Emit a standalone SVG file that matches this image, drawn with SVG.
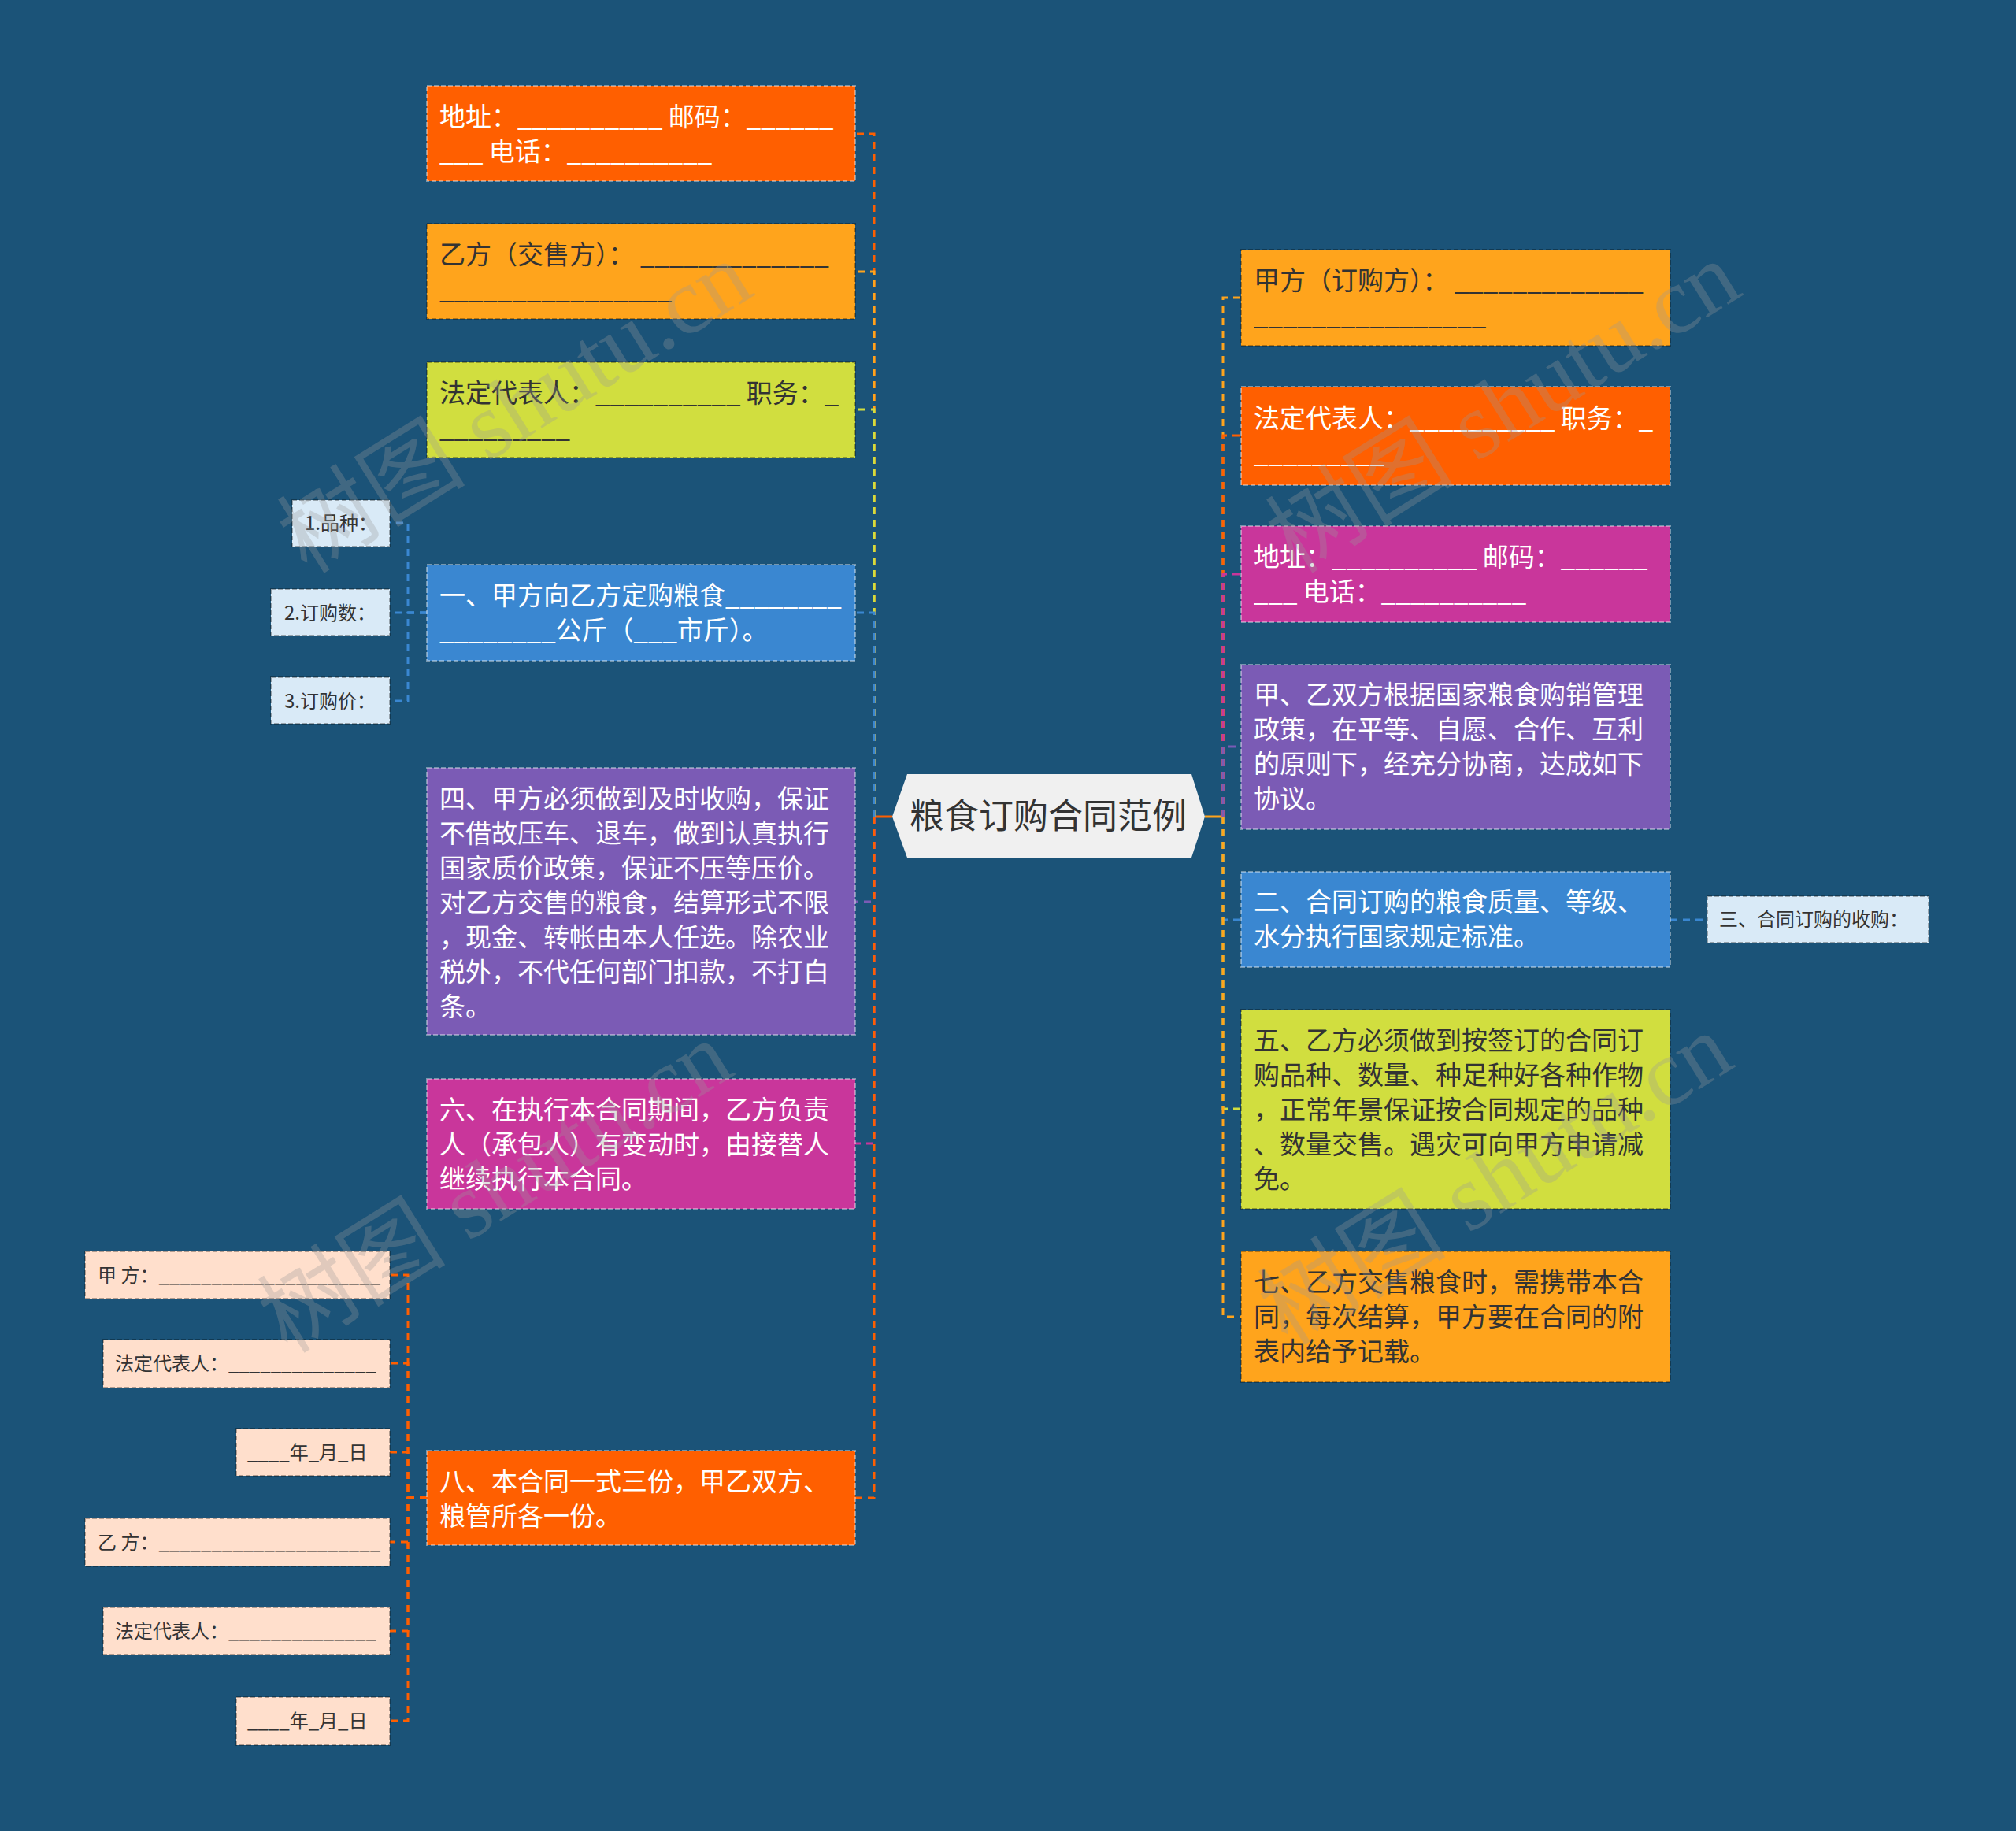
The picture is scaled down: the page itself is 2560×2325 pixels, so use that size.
<svg xmlns="http://www.w3.org/2000/svg" width="2560" height="2325" viewBox="0 0 2560 2325">
<style>
text{font-family:"Noto Sans CJK SC","Noto Sans",sans-serif;}
.b{font-size:33px;}
.s{font-size:24px;fill:#333;}
.w{fill:#fff;}
.d{fill:#333;}
.bw{stroke:rgba(255,255,255,0.4);stroke-width:2;stroke-dasharray:6 3;}
.bd{stroke:rgba(0,0,0,0.3);stroke-width:2;stroke-dasharray:6 3;}
.c{fill:none;stroke-width:3;stroke-dasharray:9 7;}
.wm{font-family:"Liberation Serif","Noto Sans CJK SC",serif;font-size:120px;fill:#9a9a9a;opacity:0.3;}
</style>
<rect width="2560" height="2325" fill="#1B5378"/>
<g id="connectors">
<path d="M1133 1037H1110" fill="none" stroke="#FF5F00" stroke-width="3"/>
<path class="c" stroke="#FF5F00" d="M1110 1037V170H1086"/>
<path class="c" stroke="#FFA41C" d="M1110 1037V345H1086"/>
<path class="c" stroke="#D1DE3F" d="M1110 1037V520H1086"/>
<path class="c" stroke="#3A87D1" d="M1110 1037V778H1086"/>
<path class="c" stroke="#7B5BB5" d="M1110 1037V1145H1086"/>
<path class="c" stroke="#C9369B" d="M1110 1037V1452H1086"/>
<path class="c" stroke="#FF5F00" d="M1110 1037V1902H1086"/>
<path d="M1530 1037H1553" fill="none" stroke="#FFA41C" stroke-width="3"/>
<path class="c" stroke="#FFA41C" d="M1553 1037V378H1576"/>
<path class="c" stroke="#FF5F00" d="M1553 1037V553H1576"/>
<path class="c" stroke="#C9369B" d="M1553 1037V729H1576"/>
<path class="c" stroke="#7B5BB5" d="M1553 1037V948H1576"/>
<path class="c" stroke="#3A87D1" d="M1553 1037V1168H1576"/>
<path class="c" stroke="#D1DE3F" d="M1553 1037V1408H1576"/>
<path class="c" stroke="#FFA41C" d="M1553 1037V1672H1576"/>
<path class="c" stroke="#3A87D1" d="M542 778H518V664H495"/>
<path class="c" stroke="#3A87D1" d="M542 778H518V778H495"/>
<path class="c" stroke="#3A87D1" d="M542 778H518V890H495"/>
<path class="c" stroke="#FF5F00" d="M542 1902H518V1619H495"/>
<path class="c" stroke="#FF5F00" d="M542 1902H518V1731H495"/>
<path class="c" stroke="#FF5F00" d="M542 1902H518V1844H495"/>
<path class="c" stroke="#FF5F00" d="M542 1902H518V1958H495"/>
<path class="c" stroke="#FF5F00" d="M542 1902H518V2071H495"/>
<path class="c" stroke="#FF5F00" d="M542 1902H518V2185H495"/>
<path class="c" stroke="#3A87D1" d="M2121 1168H2168"/>
</g>
<g id="center">
<polygon points="1133,1037 1152,983 1513,983 1530,1037 1513,1089 1152,1089" fill="#F0F0F0"/>
<text x="1331" y="1052" font-size="44" fill="#333" text-anchor="middle">粮食订购合同范例</text>
</g>
<g id="l-addr"><rect class="bw" x="542" y="109" width="544" height="121" fill="#FF5F00"/>
<text class="b w"><tspan x="558" y="160">地址：__________ 邮码：______</tspan><tspan x="558" y="204">___ 电话：__________</tspan></text></g>
<g id="l-yi"><rect class="bd" x="542" y="284" width="544" height="121" fill="#FFA41C"/>
<text class="b d"><tspan x="558" y="335">乙方（交售方）： _____________</tspan><tspan x="558" y="379">________________</tspan></text></g>
<g id="l-rep"><rect class="bd" x="542" y="460" width="544" height="121" fill="#D1DE3F"/>
<text class="b d"><tspan x="558" y="511">法定代表人：__________ 职务：_</tspan><tspan x="558" y="555">_________</tspan></text></g>
<g id="l-1"><rect class="bw" x="542" y="717" width="544" height="122" fill="#3A87D1"/>
<text class="b w"><tspan x="558" y="768">一、甲方向乙方定购粮食________</tspan><tspan x="558" y="812">________公斤（___市斤）。</tspan></text></g>
<g id="l-4"><rect class="bw" x="542" y="975" width="544" height="339" fill="#7B5BB5"/>
<text class="b w"><tspan x="558" y="1026">四、甲方必须做到及时收购，保证</tspan><tspan x="558" y="1070">不借故压车、退车，做到认真执行</tspan><tspan x="558" y="1114">国家质价政策，保证不压等压价。</tspan><tspan x="558" y="1158">对乙方交售的粮食，结算形式不限</tspan><tspan x="558" y="1202">，现金、转帐由本人任选。除农业</tspan><tspan x="558" y="1246">税外，不代任何部门扣款，不打白</tspan><tspan x="558" y="1290">条。</tspan></text></g>
<g id="l-6"><rect class="bw" x="542" y="1370" width="544" height="165" fill="#C9369B"/>
<text class="b w"><tspan x="558" y="1421">六、在执行本合同期间，乙方负责</tspan><tspan x="558" y="1465">人（承包人）有变动时，由接替人</tspan><tspan x="558" y="1509">继续执行本合同。</tspan></text></g>
<g id="l-8"><rect class="bw" x="542" y="1842" width="544" height="120" fill="#FF5F00"/>
<text class="b w"><tspan x="558" y="1893">八、本合同一式三份，甲乙双方、</tspan><tspan x="558" y="1937">粮管所各一份。</tspan></text></g>
<g id="s-1"><rect class="bd" x="371" y="635" width="124" height="59" fill="#D9EAF7"/><text class="s" x="387" y="673">1.品种：</text></g>
<g id="s-2"><rect class="bd" x="344" y="748" width="151" height="59" fill="#D9EAF7"/><text class="s" x="361" y="787">2.订购数：</text></g>
<g id="s-3"><rect class="bd" x="344" y="860" width="151" height="59" fill="#D9EAF7"/><text class="s" x="361" y="899">3.订购价：</text></g>
<g id="p-1"><rect class="bd" x="108" y="1589" width="387" height="60" fill="#FFDFCC"/><text class="s" x="124" y="1628">甲 方：_____________________</text></g>
<g id="p-2"><rect class="bd" x="131" y="1701" width="364" height="61" fill="#FFDFCC"/><text class="s" x="146" y="1740">法定代表人：______________</text></g>
<g id="p-3"><rect class="bd" x="300" y="1814" width="195" height="60" fill="#FFDFCC"/><text class="s" x="314" y="1853">____年_月_日</text></g>
<g id="p-4"><rect class="bd" x="108" y="1928" width="387" height="61" fill="#FFDFCC"/><text class="s" x="124" y="1967">乙 方：_____________________</text></g>
<g id="p-5"><rect class="bd" x="131" y="2041" width="364" height="60" fill="#FFDFCC"/><text class="s" x="146" y="2080">法定代表人：______________</text></g>
<g id="p-6"><rect class="bd" x="300" y="2155" width="195" height="61" fill="#FFDFCC"/><text class="s" x="314" y="2194">____年_月_日</text></g>
<g id="r-jia"><rect class="bd" x="1576" y="317" width="545" height="122" fill="#FFA41C"/>
<text class="b d"><tspan x="1592" y="368">甲方（订购方）： _____________</tspan><tspan x="1592" y="412">________________</tspan></text></g>
<g id="r-rep"><rect class="bw" x="1576" y="491" width="545" height="125" fill="#FF5F00"/>
<text class="b w"><tspan x="1592" y="543">法定代表人：__________ 职务：_</tspan><tspan x="1592" y="587">_________</tspan></text></g>
<g id="r-addr"><rect class="bw" x="1576" y="668" width="545" height="122" fill="#C9369B"/>
<text class="b w"><tspan x="1592" y="719">地址：__________ 邮码：______</tspan><tspan x="1592" y="763">___ 电话：__________</tspan></text></g>
<g id="r-intro"><rect class="bw" x="1576" y="844" width="545" height="209" fill="#7B5BB5"/>
<text class="b w"><tspan x="1592" y="894">甲、乙双方根据国家粮食购销管理</tspan><tspan x="1592" y="938">政策，在平等、自愿、合作、互利</tspan><tspan x="1592" y="982">的原则下，经充分协商，达成如下</tspan><tspan x="1592" y="1026">协议。</tspan></text></g>
<g id="r-2"><rect class="bw" x="1576" y="1107" width="545" height="121" fill="#3A87D1"/>
<text class="b w"><tspan x="1592" y="1157">二、合同订购的粮食质量、等级、</tspan><tspan x="1592" y="1201">水分执行国家规定标准。</tspan></text></g>
<g id="r-5"><rect class="bd" x="1576" y="1282" width="545" height="253" fill="#D1DE3F"/>
<text class="b d"><tspan x="1592" y="1333">五、乙方必须做到按签订的合同订</tspan><tspan x="1592" y="1377">购品种、数量、种足种好各种作物</tspan><tspan x="1592" y="1421">，正常年景保证按合同规定的品种</tspan><tspan x="1592" y="1465">、数量交售。遇灾可向甲方申请减</tspan><tspan x="1592" y="1509">免。</tspan></text></g>
<g id="r-7"><rect class="bd" x="1576" y="1589" width="545" height="166" fill="#FFA41C"/>
<text class="b d"><tspan x="1592" y="1640">七、乙方交售粮食时，需携带本合</tspan><tspan x="1592" y="1684">同，每次结算，甲方要在合同的附</tspan><tspan x="1592" y="1728">表内给予记载。</tspan></text></g>
<g id="r-3"><rect class="bd" x="2168" y="1138" width="281" height="59" fill="#D9EAF7"/><text class="s" x="2183" y="1176">三、合同订购的收购：</text></g>
<g id="watermarks">
<text class="wm" transform="translate(390 730) rotate(-32)">树图 shutu.cn</text>
<text class="wm" transform="translate(1645 730) rotate(-32)">树图 shutu.cn</text>
<text class="wm" transform="translate(365 1720) rotate(-32)">树图 shutu.cn</text>
<text class="wm" transform="translate(1635 1710) rotate(-32)">树图 shutu.cn</text>
</g>
</svg>
